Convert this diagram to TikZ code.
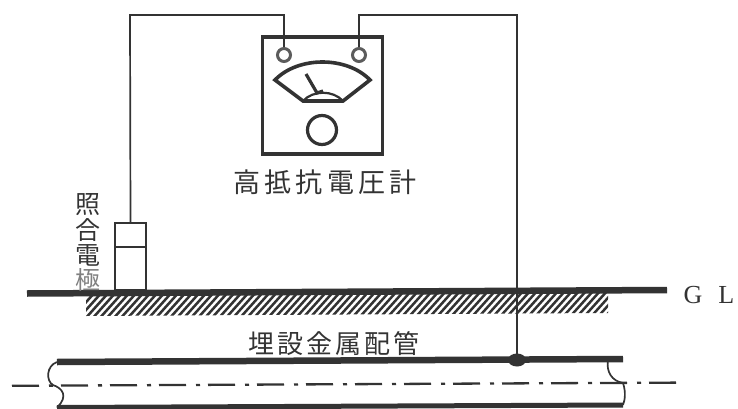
\documentclass[tikz,border=0pt]{standalone}
\usepackage{fontspec}
\setmainfont{Liberation Serif}
\newfontfamily\cjk[LetterSpace=12]{Noto Sans CJK JP}
\newfontfamily\cjkm[LetterSpace=16]{Noto Sans CJK JP}
\newfontfamily\cjkv{Noto Sans CJK JP}
\usetikzlibrary{calc,shapes.geometric}
\definecolor{ink}{HTML}{333333}
\tikzset{
  px/.style={x=1pt,y=-1pt},
  wire/.style={draw=ink,line width=1.7pt},
  heavy/.style={draw=ink,line width=6.5pt},
  box/.style={draw=ink,line width=3.6pt},
  label/.style={font=\fontsize{26}{26}\selectfont\cjk,text=ink,inner sep=0pt},
  vlabel/.style={font=\fontsize{25}{25}\selectfont\cjkv,text=ink,inner sep=0pt},
  terminal/.style={circle,draw=ink!80,line width=3pt,minimum size=13pt,inner sep=0pt},
  empty/.style={inner sep=0pt,outer sep=0pt}
}
\begin{document}
\begin{tikzpicture}[px]
\useasboundingbox (0,0) rectangle (738,409);
% hatching
\begin{scope}
  \clip (86,296) -- (608,292) -- (608,313) -- (86,316) -- cycle;
  \foreach \i in {0,...,78}{
    \draw[ink,line width=2.5pt] ({70+\i*7},320) -- ({97+\i*7},290);
  }
\end{scope}
% ground line
\coordinate (glL) at (27,293.5);
\coordinate (glR) at (667,290);
\draw[heavy] (glL) -- (glR);
% meter
\node[empty,box,draw,minimum width=120pt,minimum height=117pt] (meter) at (322.5,95.5) {};
\node[terminal] (t1) at (284,55) {};
\node[terminal] (t2) at (359,55) {};
\node[circle,draw=ink,line width=3.2pt,minimum size=29pt,inner sep=0pt] (knob) at (322,130) {};
\draw[box,line join=miter] (275,80) .. controls (298,56) and (347,56) .. (370,80) -- (343,101) -- (303,101) -- cycle;
\draw[draw=ink,line width=2.2pt] (303,101) .. controls (313,90) and (333,90) .. (343,101);
\draw[draw=ink,line width=3.2pt] (306,74) -- (317,93) -- (323,91);
\node[label,font=\fontsize{27}{27}\selectfont\cjkm] (mlabel) at (325,182) {高抵抗電圧計};
% electrode
\node[empty,draw=ink,line width=1.6pt,minimum width=31pt,minimum height=67pt] (elec) at (130.5,256.5) {};
\coordinate (d1) at (115,247);
\coordinate (d2) at (146,247);
\draw[wire] (d1) -- (d2);
\node[vlabel] (v1) at (88,205) {照};
\node[vlabel] (v2) at (88,230) {合};
\node[vlabel] (v3) at (88,255) {電};
\node[vlabel,text=gray] (v4) at (88,280) {極};
% wires
\coordinate (pj) at (517,360);
\draw[wire] (t1.north) -- (284,15) -- (130,15) -- (elec.north);
\draw[wire] (t2.north) -- (359,15) -- (517,15) -- (pj);
% pipe
\coordinate (pt1) at (57,362);
\coordinate (pt2) at (623,359);
\coordinate (pb1) at (57,407.5);
\coordinate (pb2) at (623,405);
\draw[heavy] (pt1) -- (pt2);
\draw[heavy,line width=5pt] (pb1) -- (pb2);
\draw[wire] (pt1) .. controls (46,366) and (46,381) .. (53,385) .. controls (62,388) and (69,396) .. (pb1);
\draw[wire] (608,360) .. controls (606,372) and (612,381) .. (623,383) .. controls (626,392) and (625,400) .. (pb2);
\node[ellipse,fill=ink,minimum width=18pt,minimum height=13pt,inner sep=0pt] (joint) at (pj) {};
\node[label] (plabel) at (334,344) {埋設金属配管};
% centre line
\coordinate (c1) at (12,385.8);
\coordinate (c2) at (680,382.6);
\draw[ink,line width=2.3pt,dash pattern=on 27pt off 10pt on 4pt off 8pt] (c1) -- (c2);
% GL
\node[empty,font=\fontsize{26}{26}\selectfont,text=ink] (gl) at (709,295) {G\hspace{16pt}L};
\end{tikzpicture}
\end{document}
